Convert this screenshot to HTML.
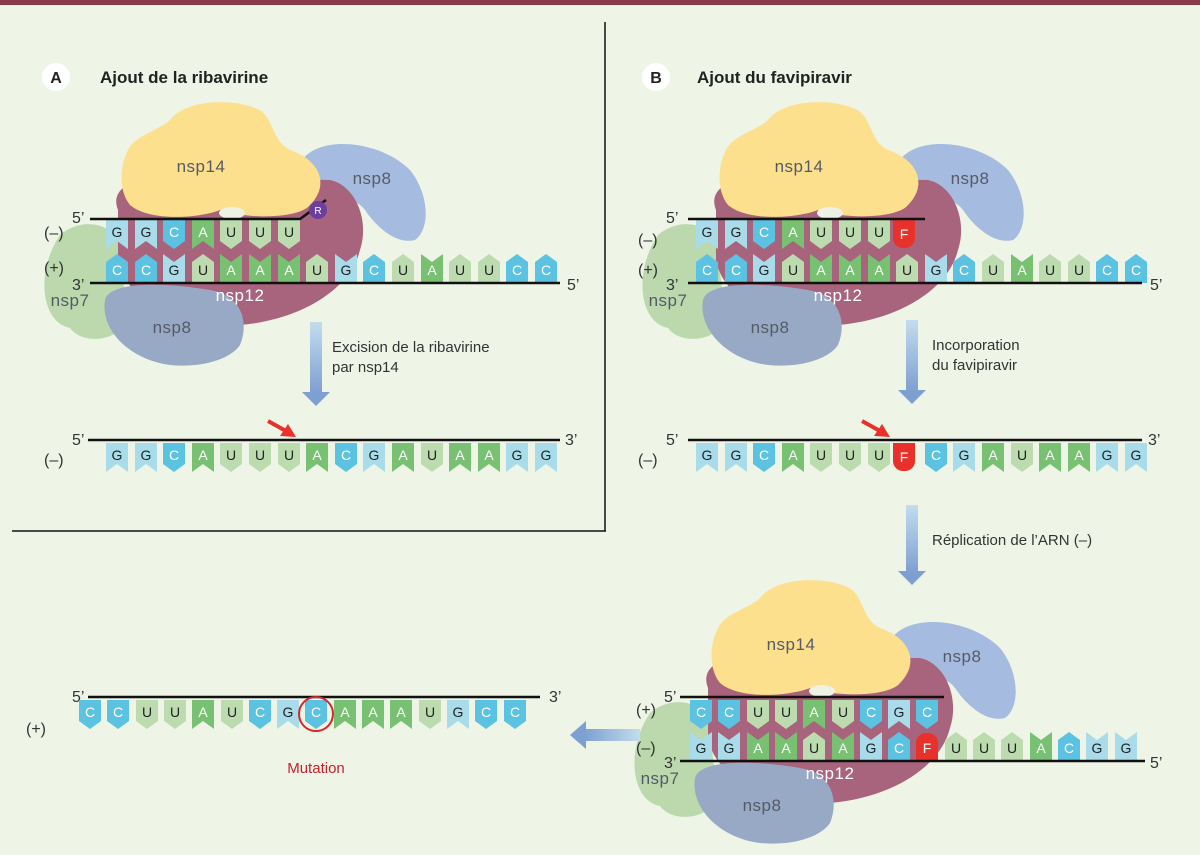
<!DOCTYPE html>
<html><head><meta charset="utf-8"><style>
html,body{margin:0;padding:0;background:#eef5e7;}
svg{display:block;font-family:"Liberation Sans",sans-serif;}
.n{font-size:14px;text-anchor:middle;}
.k{fill:#222}.w{fill:#fff}
.lb{font-size:16px;fill:#333}
.p{font-size:17px;fill:#555a66;text-anchor:middle;letter-spacing:0.5px}
.pw{font-size:17px;fill:#fff;text-anchor:middle;letter-spacing:0.5px}
.t{font-size:15px;fill:#333}
</style></head><body>
<svg width="1200" height="855" viewBox="0 0 1200 855" xmlns="http://www.w3.org/2000/svg">
<defs>
<path id="d" d="M0,0H22V21L11,29L0,21Z"/>
<path id="dn" d="M0,0H22V29L11,21L0,29Z"/>
<path id="u" d="M0,0H22V-21L11,-29L0,-21Z"/>
<path id="un" d="M0,0H22V-29L11,-21L0,-29Z"/>
<linearGradient id="bg" x1="0" y1="0" x2="0" y2="1"><stop offset="0" stop-color="#c3dced"/><stop offset="1" stop-color="#7d9fd2"/></linearGradient>
<linearGradient id="bgh" x1="1" y1="0" x2="0" y2="0"><stop offset="0" stop-color="#c3dced"/><stop offset="1" stop-color="#7d9fd2"/></linearGradient>
<g id="prot">
<path fill="#bcd9ae" d="M60,235 C80,218 108,222 118,240 L128,320 C118,342 82,345 70,328 C40,322 36,270 60,235Z"/>
<path fill="#a6bbe0" d="M302,160 C320,135 380,140 410,170 C430,195 430,230 415,240 C395,245 375,225 365,210 C355,195 320,195 305,185 C295,178 296,168 302,160Z"/>
<path fill="#a8647c" d="M118,210 C110,190 130,178 160,178 L330,180 C355,185 370,220 360,250 C350,290 300,320 240,325 C180,328 125,300 118,260Z"/>
<path fill="#fde08e" d="M130,205 C118,190 120,165 128,150 C135,135 160,130 170,120 C185,100 230,98 255,108 C275,115 270,140 290,150 C320,160 330,185 310,205 C300,218 250,220 220,210 C200,218 150,222 130,205Z"/>
<ellipse cx="232" cy="213" rx="13" ry="6" fill="#eef2e4"/>
</g>
<path id="n8" fill="#98a9c6" d="M105,300 C110,280 170,283 210,290 C240,295 250,320 240,345 C230,360 200,368 170,365 C130,360 100,330 105,300Z"/>
</defs>
<rect x="0" y="0" width="1200" height="5" fill="#8b3a4a"/>
<line x1="605" y1="22" x2="605" y2="531" stroke="#111" stroke-width="1.5"/>
<line x1="12" y1="531" x2="606" y2="531" stroke="#111" stroke-width="1.5"/>

<!-- titles -->
<circle cx="56" cy="77" r="14" fill="#fff"/><text x="56" y="83" text-anchor="middle" font-weight="bold" font-size="16" fill="#222">A</text>
<text x="100" y="83" font-weight="bold" font-size="17" fill="#222">Ajout de la ribavirine</text>
<circle cx="656" cy="77" r="14" fill="#fff"/><text x="656" y="83" text-anchor="middle" font-weight="bold" font-size="16" fill="#222">B</text>
<text x="697" y="83" font-weight="bold" font-size="17" fill="#222">Ajout du favipiravir</text>

<!-- ===== Panel A complex ===== -->
<use href="#prot"/>
<g>
<use href="#dn" x="106" y="220" fill="#a9dcea"/><text class="n k" x="117" y="237">G</text>
<use href="#dn" x="135" y="220" fill="#a9dcea"/><text class="n k" x="146" y="237">G</text>
<use href="#d" x="163" y="220" fill="#5bc3e1"/><text class="n w" x="174" y="237">C</text>
<use href="#dn" x="192" y="220" fill="#78c172"/><text class="n w" x="203" y="237">A</text>
<use href="#d" x="220" y="220" fill="#bcdcb0"/><text class="n k" x="231" y="237">U</text>
<use href="#d" x="249" y="220" fill="#bcdcb0"/><text class="n k" x="260" y="237">U</text>
<use href="#d" x="278" y="220" fill="#bcdcb0"/><text class="n k" x="289" y="237">U</text>
</g>
<g>
<use href="#u" x="106" y="283" fill="#5bc3e1"/><text class="n w" x="117" y="275">C</text>
<use href="#u" x="135" y="283" fill="#5bc3e1"/><text class="n w" x="146" y="275">C</text>
<use href="#un" x="163" y="283" fill="#a9dcea"/><text class="n k" x="174" y="275">G</text>
<use href="#u" x="192" y="283" fill="#bcdcb0"/><text class="n k" x="203" y="275">U</text>
<use href="#un" x="220" y="283" fill="#78c172"/><text class="n w" x="231" y="275">A</text>
<use href="#un" x="249" y="283" fill="#78c172"/><text class="n w" x="260" y="275">A</text>
<use href="#un" x="278" y="283" fill="#78c172"/><text class="n w" x="289" y="275">A</text>
<use href="#u" x="306" y="283" fill="#bcdcb0"/><text class="n k" x="317" y="275">U</text>
<use href="#un" x="335" y="283" fill="#a9dcea"/><text class="n k" x="346" y="275">G</text>
<use href="#u" x="363" y="283" fill="#5bc3e1"/><text class="n w" x="374" y="275">C</text>
<use href="#u" x="392" y="283" fill="#bcdcb0"/><text class="n k" x="403" y="275">U</text>
<use href="#un" x="421" y="283" fill="#78c172"/><text class="n w" x="432" y="275">A</text>
<use href="#u" x="449" y="283" fill="#bcdcb0"/><text class="n k" x="460" y="275">U</text>
<use href="#u" x="478" y="283" fill="#bcdcb0"/><text class="n k" x="489" y="275">U</text>
<use href="#u" x="506" y="283" fill="#5bc3e1"/><text class="n w" x="517" y="275">C</text>
<use href="#u" x="535" y="283" fill="#5bc3e1"/><text class="n w" x="546" y="275">C</text>
</g>
<polyline points="90,219 300,219 326,200" fill="none" stroke="#111" stroke-width="2.5"/>
<line x1="90" y1="283" x2="560" y2="283" stroke="#111" stroke-width="2.5"/>
<circle cx="318" cy="210" r="9" fill="#6a3f9e"/><text x="318" y="214" font-size="10" fill="#fff" text-anchor="middle">R</text>
<use href="#n8"/>
<text class="p" x="201" y="172">nsp14</text>
<text class="p" x="372" y="184">nsp8</text>
<text class="pw" x="240" y="301">nsp12</text>
<text class="p" x="172" y="333">nsp8</text>
<text class="p" x="70" y="306">nsp7</text>
<text class="lb" x="72" y="223">5’</text><text class="lb" x="44" y="238">(–)</text>
<text class="lb" x="44" y="273">(+)</text><text class="lb" x="72" y="290">3’</text>
<text class="lb" x="567" y="290">5’</text>

<!-- arrow A -->
<rect x="310" y="322" width="12" height="72" fill="url(#bg)"/>
<polygon points="302,392 330,392 316,406" fill="#7d9fd2"/>
<text class="t" x="332" y="352">Excision de la ribavirine</text>
<text class="t" x="332" y="372">par nsp14</text>

<!-- A result strand -->
<line x1="268" y1="421" x2="286" y2="431" stroke="#e8312a" stroke-width="4"/>
<polygon points="296,437 280,436 288,424" fill="#e8312a"/>
<line x1="88" y1="440" x2="560" y2="440" stroke="#111" stroke-width="2.5"/>
<text class="lb" x="72" y="445">5’</text><text class="lb" x="44" y="465">(–)</text><text class="lb" x="565" y="445">3’</text>
<g>
<use href="#dn" x="106" y="443" fill="#a9dcea"/><text class="n k" x="117" y="460">G</text>
<use href="#dn" x="135" y="443" fill="#a9dcea"/><text class="n k" x="146" y="460">G</text>
<use href="#d" x="163" y="443" fill="#5bc3e1"/><text class="n w" x="174" y="460">C</text>
<use href="#dn" x="192" y="443" fill="#78c172"/><text class="n w" x="203" y="460">A</text>
<use href="#d" x="220" y="443" fill="#bcdcb0"/><text class="n k" x="231" y="460">U</text>
<use href="#d" x="249" y="443" fill="#bcdcb0"/><text class="n k" x="260" y="460">U</text>
<use href="#d" x="278" y="443" fill="#bcdcb0"/><text class="n k" x="289" y="460">U</text>
<use href="#dn" x="306" y="443" fill="#78c172"/><text class="n w" x="317" y="460">A</text>
<use href="#d" x="335" y="443" fill="#5bc3e1"/><text class="n w" x="346" y="460">C</text>
<use href="#dn" x="363" y="443" fill="#a9dcea"/><text class="n k" x="374" y="460">G</text>
<use href="#dn" x="392" y="443" fill="#78c172"/><text class="n w" x="403" y="460">A</text>
<use href="#d" x="421" y="443" fill="#bcdcb0"/><text class="n k" x="432" y="460">U</text>
<use href="#dn" x="449" y="443" fill="#78c172"/><text class="n w" x="460" y="460">A</text>
<use href="#dn" x="478" y="443" fill="#78c172"/><text class="n w" x="489" y="460">A</text>
<use href="#dn" x="506" y="443" fill="#a9dcea"/><text class="n k" x="517" y="460">G</text>
<use href="#dn" x="535" y="443" fill="#a9dcea"/><text class="n k" x="546" y="460">G</text>
</g>

<!-- ===== Panel B complex ===== -->
<use href="#prot" transform="translate(598,0)"/>
<g>
<use href="#dn" x="696" y="220" fill="#a9dcea"/><text class="n k" x="707" y="237">G</text>
<use href="#dn" x="725" y="220" fill="#a9dcea"/><text class="n k" x="736" y="237">G</text>
<use href="#d" x="753" y="220" fill="#5bc3e1"/><text class="n w" x="764" y="237">C</text>
<use href="#dn" x="782" y="220" fill="#78c172"/><text class="n w" x="793" y="237">A</text>
<use href="#d" x="810" y="220" fill="#bcdcb0"/><text class="n k" x="821" y="237">U</text>
<use href="#d" x="839" y="220" fill="#bcdcb0"/><text class="n k" x="850" y="237">U</text>
<use href="#d" x="868" y="220" fill="#bcdcb0"/><text class="n k" x="879" y="237">U</text>
<rect x="893" y="220" width="22" height="28" rx="10" fill="#e8312a"/><rect x="893" y="220" width="22" height="10" fill="#e8312a"/><text class="n w" x="904" y="239">F</text>
</g>
<g>
<use href="#u" x="696" y="283" fill="#5bc3e1"/><text class="n w" x="707" y="275">C</text>
<use href="#u" x="725" y="283" fill="#5bc3e1"/><text class="n w" x="736" y="275">C</text>
<use href="#un" x="753" y="283" fill="#a9dcea"/><text class="n k" x="764" y="275">G</text>
<use href="#u" x="782" y="283" fill="#bcdcb0"/><text class="n k" x="793" y="275">U</text>
<use href="#un" x="810" y="283" fill="#78c172"/><text class="n w" x="821" y="275">A</text>
<use href="#un" x="839" y="283" fill="#78c172"/><text class="n w" x="850" y="275">A</text>
<use href="#un" x="868" y="283" fill="#78c172"/><text class="n w" x="879" y="275">A</text>
<use href="#u" x="896" y="283" fill="#bcdcb0"/><text class="n k" x="907" y="275">U</text>
<use href="#un" x="925" y="283" fill="#a9dcea"/><text class="n k" x="936" y="275">G</text>
<use href="#u" x="953" y="283" fill="#5bc3e1"/><text class="n w" x="964" y="275">C</text>
<use href="#u" x="982" y="283" fill="#bcdcb0"/><text class="n k" x="993" y="275">U</text>
<use href="#un" x="1011" y="283" fill="#78c172"/><text class="n w" x="1022" y="275">A</text>
<use href="#u" x="1039" y="283" fill="#bcdcb0"/><text class="n k" x="1050" y="275">U</text>
<use href="#u" x="1068" y="283" fill="#bcdcb0"/><text class="n k" x="1079" y="275">U</text>
<use href="#u" x="1096" y="283" fill="#5bc3e1"/><text class="n w" x="1107" y="275">C</text>
<use href="#u" x="1125" y="283" fill="#5bc3e1"/><text class="n w" x="1136" y="275">C</text>
</g>
<line x1="688" y1="219" x2="925" y2="219" stroke="#111" stroke-width="2.5"/>
<line x1="688" y1="283" x2="1142" y2="283" stroke="#111" stroke-width="2.5"/>
<use href="#n8" transform="translate(598,0)"/>
<text class="p" x="799" y="172">nsp14</text>
<text class="p" x="970" y="184">nsp8</text>
<text class="pw" x="838" y="301">nsp12</text>
<text class="p" x="770" y="333">nsp8</text>
<text class="p" x="668" y="306">nsp7</text>
<text class="lb" x="666" y="223">5’</text><text class="lb" x="638" y="245">(–)</text>
<text class="lb" x="638" y="275">(+)</text><text class="lb" x="666" y="290">3’</text>
<text class="lb" x="1150" y="290">5’</text>

<rect x="906" y="320" width="12" height="72" fill="url(#bg)"/>
<polygon points="898,390 926,390 912,404" fill="#7d9fd2"/>
<text class="t" x="932" y="350">Incorporation</text>
<text class="t" x="932" y="370">du favipiravir</text>

<line x1="862" y1="421" x2="880" y2="431" stroke="#e8312a" stroke-width="4"/>
<polygon points="890,437 874,436 882,424" fill="#e8312a"/>
<line x1="688" y1="440" x2="1142" y2="440" stroke="#111" stroke-width="2.5"/>
<text class="lb" x="666" y="445">5’</text><text class="lb" x="638" y="465">(–)</text><text class="lb" x="1148" y="445">3’</text>
<g>
<use href="#dn" x="696" y="443" fill="#a9dcea"/><text class="n k" x="707" y="460">G</text>
<use href="#dn" x="725" y="443" fill="#a9dcea"/><text class="n k" x="736" y="460">G</text>
<use href="#d" x="753" y="443" fill="#5bc3e1"/><text class="n w" x="764" y="460">C</text>
<use href="#dn" x="782" y="443" fill="#78c172"/><text class="n w" x="793" y="460">A</text>
<use href="#d" x="810" y="443" fill="#bcdcb0"/><text class="n k" x="821" y="460">U</text>
<use href="#d" x="839" y="443" fill="#bcdcb0"/><text class="n k" x="850" y="460">U</text>
<use href="#d" x="868" y="443" fill="#bcdcb0"/><text class="n k" x="879" y="460">U</text>
<rect x="893" y="443" width="22" height="28" rx="10" fill="#e8312a"/><rect x="893" y="443" width="22" height="10" fill="#e8312a"/><text class="n w" x="904" y="462">F</text>
<use href="#d" x="925" y="443" fill="#5bc3e1"/><text class="n w" x="936" y="460">C</text>
<use href="#dn" x="953" y="443" fill="#a9dcea"/><text class="n k" x="964" y="460">G</text>
<use href="#dn" x="982" y="443" fill="#78c172"/><text class="n w" x="993" y="460">A</text>
<use href="#d" x="1011" y="443" fill="#bcdcb0"/><text class="n k" x="1022" y="460">U</text>
<use href="#dn" x="1039" y="443" fill="#78c172"/><text class="n w" x="1050" y="460">A</text>
<use href="#dn" x="1068" y="443" fill="#78c172"/><text class="n w" x="1079" y="460">A</text>
<use href="#dn" x="1096" y="443" fill="#a9dcea"/><text class="n k" x="1107" y="460">G</text>
<use href="#dn" x="1125" y="443" fill="#a9dcea"/><text class="n k" x="1136" y="460">G</text>
</g>

<rect x="906" y="505" width="12" height="68" fill="url(#bg)"/>
<polygon points="898,571 926,571 912,585" fill="#7d9fd2"/>
<text class="t" x="932" y="545">Réplication de l’ARN (–)</text>

<!-- ===== Bottom complex ===== -->
<use href="#prot" transform="translate(590,478)"/>
<g>
<use href="#d" x="690" y="700" fill="#5bc3e1"/><text class="n w" x="701" y="717">C</text>
<use href="#d" x="718" y="700" fill="#5bc3e1"/><text class="n w" x="729" y="717">C</text>
<use href="#d" x="747" y="700" fill="#bcdcb0"/><text class="n k" x="758" y="717">U</text>
<use href="#d" x="775" y="700" fill="#bcdcb0"/><text class="n k" x="786" y="717">U</text>
<use href="#dn" x="803" y="700" fill="#78c172"/><text class="n w" x="814" y="717">A</text>
<use href="#d" x="832" y="700" fill="#bcdcb0"/><text class="n k" x="843" y="717">U</text>
<use href="#d" x="860" y="700" fill="#5bc3e1"/><text class="n w" x="871" y="717">C</text>
<use href="#dn" x="888" y="700" fill="#a9dcea"/><text class="n k" x="899" y="717">G</text>
<use href="#d" x="916" y="700" fill="#5bc3e1"/><text class="n w" x="927" y="717">C</text>
</g>
<g>
<use href="#un" x="690" y="761" fill="#a9dcea"/><text class="n k" x="701" y="753">G</text>
<use href="#un" x="718" y="761" fill="#a9dcea"/><text class="n k" x="729" y="753">G</text>
<use href="#un" x="747" y="761" fill="#78c172"/><text class="n w" x="758" y="753">A</text>
<use href="#un" x="775" y="761" fill="#78c172"/><text class="n w" x="786" y="753">A</text>
<use href="#u" x="803" y="761" fill="#bcdcb0"/><text class="n k" x="814" y="753">U</text>
<use href="#un" x="832" y="761" fill="#78c172"/><text class="n w" x="843" y="753">A</text>
<use href="#un" x="860" y="761" fill="#a9dcea"/><text class="n k" x="871" y="753">G</text>
<use href="#u" x="888" y="761" fill="#5bc3e1"/><text class="n w" x="899" y="753">C</text>
<rect x="916" y="733" width="22" height="28" rx="10" fill="#e8312a"/><rect x="916" y="751" width="22" height="10" fill="#e8312a"/><text class="n w" x="927" y="753">F</text>
<use href="#u" x="945" y="761" fill="#bcdcb0"/><text class="n k" x="956" y="753">U</text>
<use href="#u" x="973" y="761" fill="#bcdcb0"/><text class="n k" x="984" y="753">U</text>
<use href="#u" x="1001" y="761" fill="#bcdcb0"/><text class="n k" x="1012" y="753">U</text>
<use href="#un" x="1030" y="761" fill="#78c172"/><text class="n w" x="1041" y="753">A</text>
<use href="#u" x="1058" y="761" fill="#5bc3e1"/><text class="n w" x="1069" y="753">C</text>
<use href="#un" x="1086" y="761" fill="#a9dcea"/><text class="n k" x="1097" y="753">G</text>
<use href="#un" x="1115" y="761" fill="#a9dcea"/><text class="n k" x="1126" y="753">G</text>
</g>
<line x1="680" y1="697" x2="944" y2="697" stroke="#111" stroke-width="2.5"/>
<line x1="680" y1="761" x2="1145" y2="761" stroke="#111" stroke-width="2.5"/>
<use href="#n8" transform="translate(590,478)"/>
<text class="p" x="791" y="650">nsp14</text>
<text class="p" x="962" y="662">nsp8</text>
<text class="pw" x="830" y="779">nsp12</text>
<text class="p" x="762" y="811">nsp8</text>
<text class="p" x="660" y="784">nsp7</text>
<text class="lb" x="664" y="702">5’</text><text class="lb" x="636" y="715">(+)</text>
<text class="lb" x="636" y="753">(–)</text><text class="lb" x="664" y="768">3’</text>
<text class="lb" x="1150" y="768">5’</text>

<!-- left arrow -->
<rect x="584" y="729" width="56" height="12" fill="url(#bgh)"/>
<polygon points="586,721 586,749 570,735" fill="#7d9fd2"/>

<!-- bottom-left strand -->
<line x1="88" y1="697" x2="540" y2="697" stroke="#111" stroke-width="2.5"/>
<text class="lb" x="72" y="702">5’</text><text class="lb" x="26" y="734" font-size="13">(+)</text><text class="lb" x="549" y="702">3’</text>
<g>
<use href="#d" x="79" y="700" fill="#5bc3e1"/><text class="n w" x="90" y="717">C</text>
<use href="#d" x="107" y="700" fill="#5bc3e1"/><text class="n w" x="118" y="717">C</text>
<use href="#d" x="136" y="700" fill="#bcdcb0"/><text class="n k" x="147" y="717">U</text>
<use href="#d" x="164" y="700" fill="#bcdcb0"/><text class="n k" x="175" y="717">U</text>
<use href="#dn" x="192" y="700" fill="#78c172"/><text class="n w" x="203" y="717">A</text>
<use href="#d" x="221" y="700" fill="#bcdcb0"/><text class="n k" x="232" y="717">U</text>
<use href="#d" x="249" y="700" fill="#5bc3e1"/><text class="n w" x="260" y="717">C</text>
<use href="#dn" x="277" y="700" fill="#a9dcea"/><text class="n k" x="288" y="717">G</text>
<use href="#d" x="305" y="700" fill="#5bc3e1"/><text class="n w" x="316" y="717">C</text>
<use href="#dn" x="334" y="700" fill="#78c172"/><text class="n w" x="345" y="717">A</text>
<use href="#dn" x="362" y="700" fill="#78c172"/><text class="n w" x="373" y="717">A</text>
<use href="#dn" x="390" y="700" fill="#78c172"/><text class="n w" x="401" y="717">A</text>
<use href="#d" x="419" y="700" fill="#bcdcb0"/><text class="n k" x="430" y="717">U</text>
<use href="#dn" x="447" y="700" fill="#a9dcea"/><text class="n k" x="458" y="717">G</text>
<use href="#d" x="475" y="700" fill="#5bc3e1"/><text class="n w" x="486" y="717">C</text>
<use href="#d" x="504" y="700" fill="#5bc3e1"/><text class="n w" x="515" y="717">C</text>
</g>
<circle cx="316" cy="714" r="17" fill="none" stroke="#d8262a" stroke-width="2"/>
<text x="316" y="773" font-size="15" fill="#c8202a" text-anchor="middle">Mutation</text>
</svg>
</body></html>
